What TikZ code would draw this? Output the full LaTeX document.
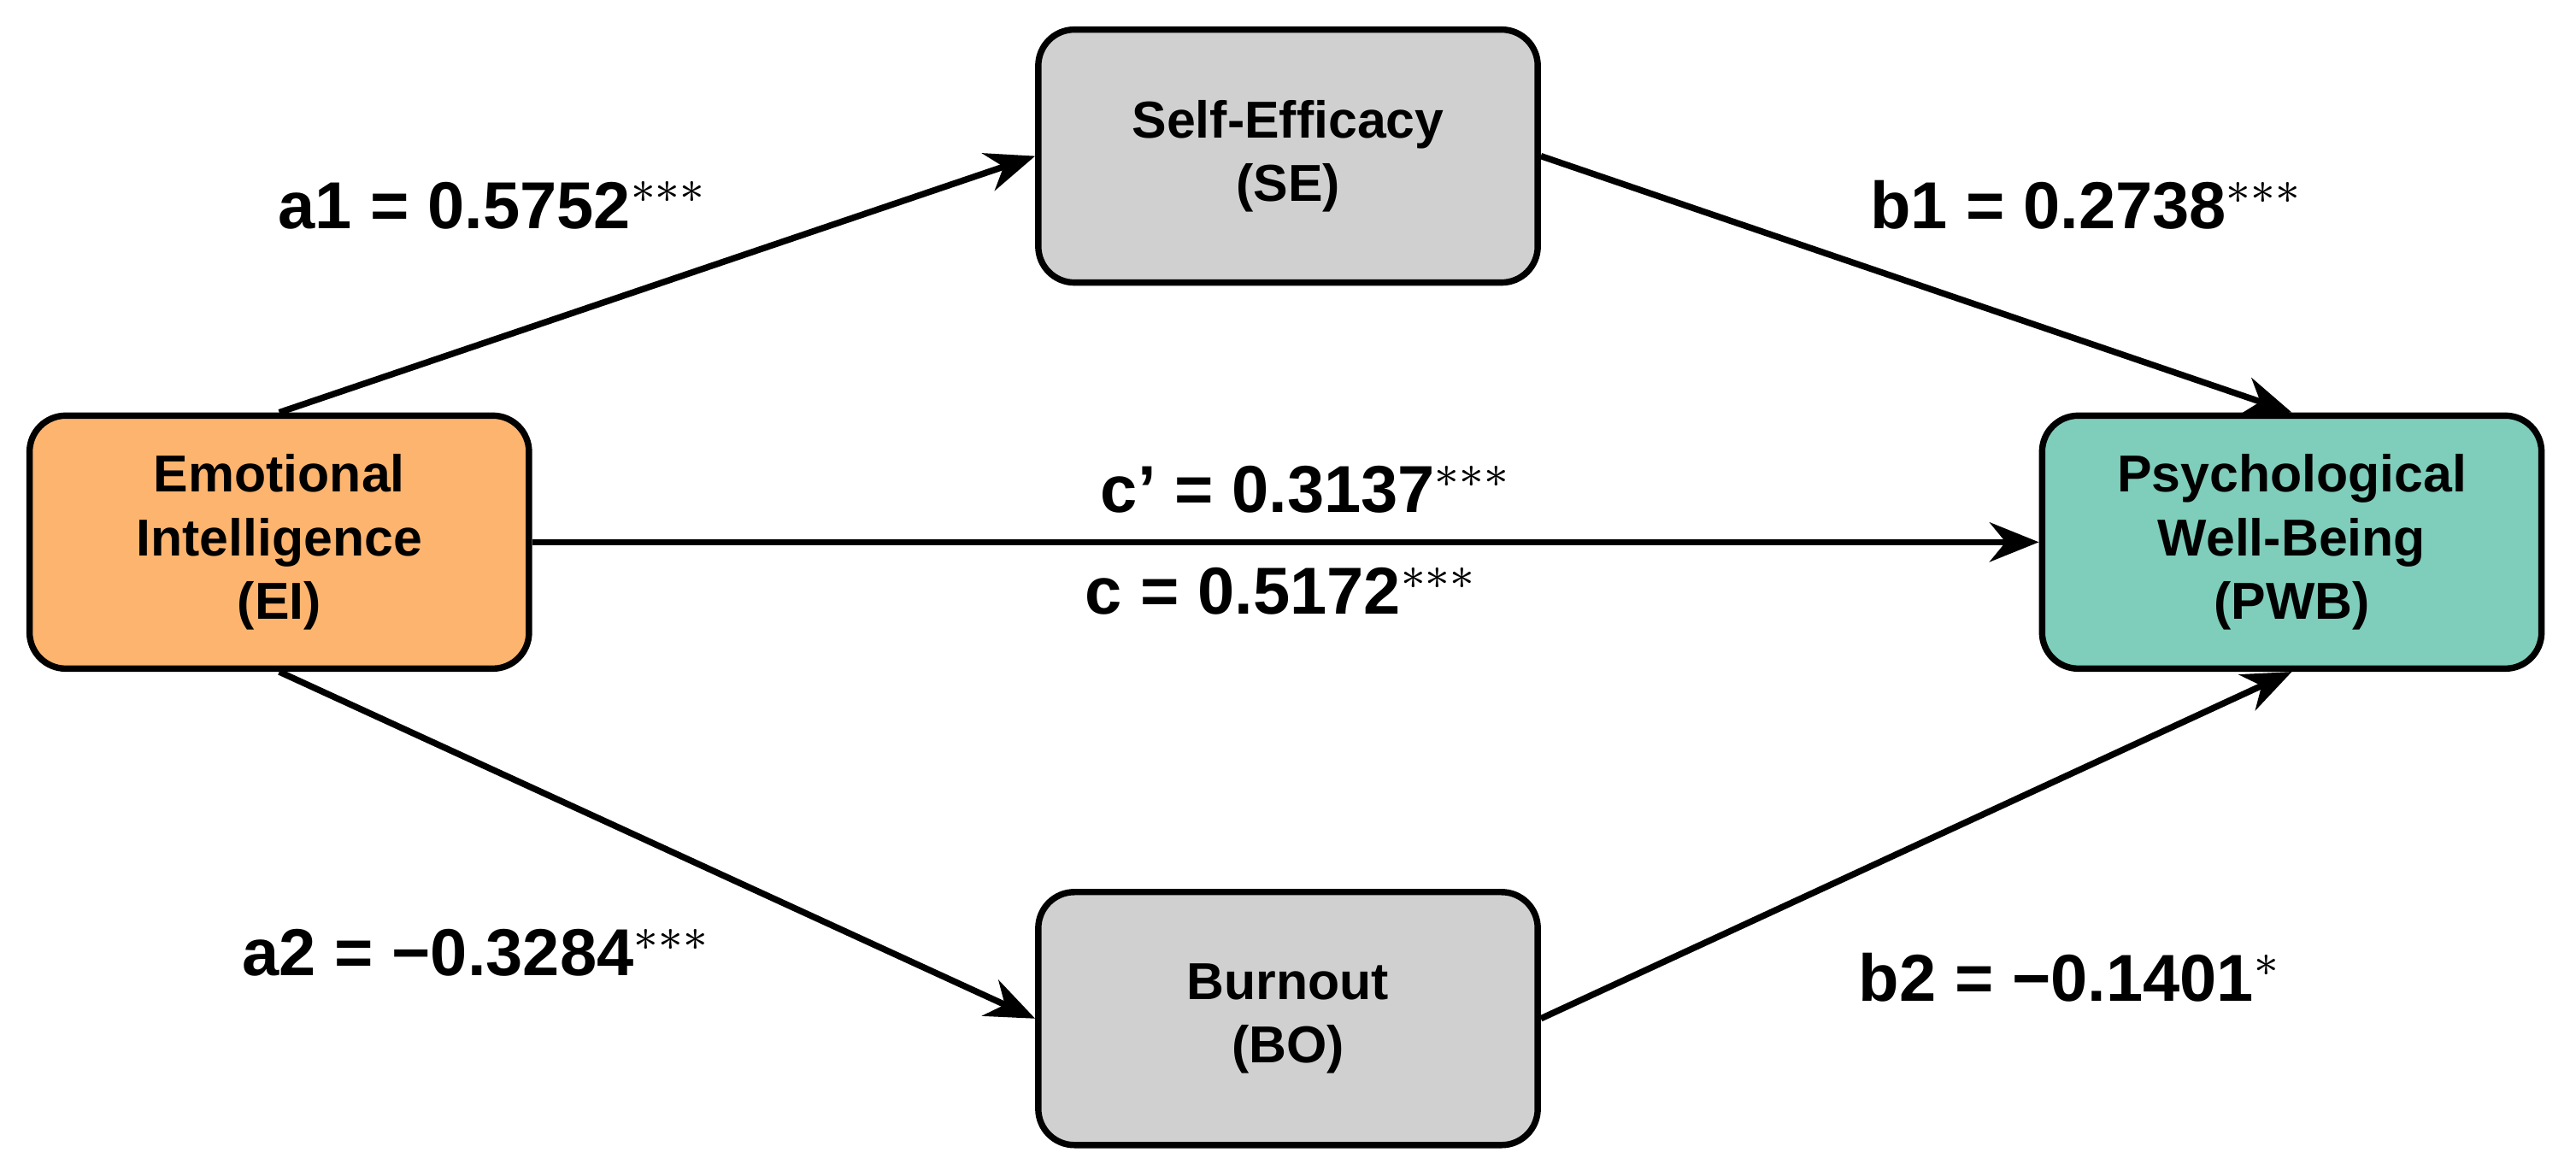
\documentclass[tikz,border=0pt]{standalone}
\usepackage{fontspec}
\setmainfont{Liberation Sans}
\usetikzlibrary{arrows.meta,positioning}

\definecolor{eicol}{HTML}{FDB46E}
\definecolor{pwbcol}{HTML}{7FCDBB}
\definecolor{medcol}{HTML}{D0D0D0}

\tikzset{
  var/.style={draw, line width=1.1pt, rounded corners=0.22cm, minimum width=3.04cm,
    minimum height=1.54cm, align=center, font=\fontsize{9}{11}\selectfont\bfseries},
  path/.style={line width=1.1pt, -{Stealth[length=0.3cm,width=0.24cm]}},
  coef/.style={font=\fontsize{11.5}{13}\selectfont\bfseries}
}

\begin{document}
\begin{tikzpicture}
      \useasboundingbox (0,0) rectangle (15.68,7.12);

      \node[var, fill=eicol]  (ei)  at (1.70,3.82) {Emotional\\Intelligence\\(EI)};
      \node[var, fill=medcol] (se)  at (7.84,6.17) {Self-Efficacy\\(SE)};
      \node[var, fill=medcol] (bo)  at (7.84,0.92) {Burnout\\(BO)};
      \node[var, fill=pwbcol] (pwb) at (13.95,3.82) {Psychological\\Well-Being\\(PWB)};

      \draw[path] (ei.north) -- (se.west);
      \draw[path] (se.east)  -- (pwb.north);
      \draw[path] (ei.east)  -- (pwb.west);
      \draw[path] (ei.south) -- (bo.west);
      \draw[path] (bo.east)  -- (pwb.south);

      \node[coef] (a1) at (3.00,5.87) {a1 = 0.5752$^{***}$};
      \node[coef] (b1) at (12.70,5.87) {b1 = 0.2738$^{***}$};
      \node[coef] (cp) at (7.95,4.14) {c' = 0.3137$^{***}$};
      \node[coef] (c)  at (7.80,3.52) {c = 0.5172$^{***}$};
      \node[coef] (a2) at (2.90,1.32) {a2 = −0.3284$^{***}$};
      \node[coef] (b2) at (12.60,1.17) {b2 = −0.1401$^{*}$};
    \end{tikzpicture}
\end{document}
